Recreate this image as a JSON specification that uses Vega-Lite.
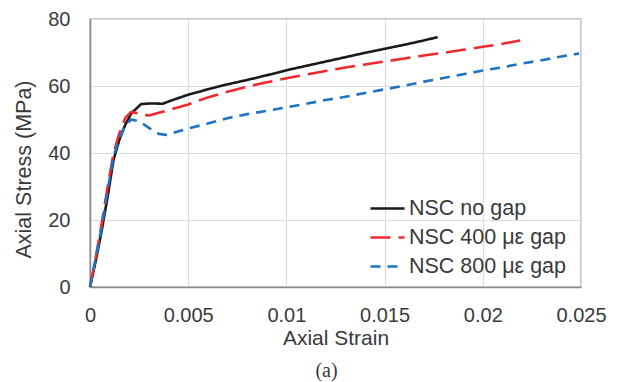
{
  "$schema": "https://vega.github.io/schema/vega-lite/v6.json",
  "autosize": {"type": "none"},
  "padding": {"left": 90, "top": 19, "right": 41, "bottom": 95},
  "width": 491,
  "height": 268,
  "config": {
    "font": "Liberation Sans",
    "view": {"stroke": "#b4b4b4", "strokeWidth": 1.5},
    "axis": {
      "grid": true, "gridColor": "#dcdcdc", "gridWidth": 1.2,
      "ticks": false, "domainColor": "#8a8a8a", "domainWidth": 1.5,
      "labelFont": "Liberation Sans", "labelFontSize": 20, "labelColor": "#3a3a3a",
      "titleFont": "Liberation Sans", "titleFontSize": 21, "titleColor": "#3a3a3a", "titleFontWeight": "normal"
    },
    "legend": {"labelFont": "Liberation Sans", "labelFontSize": 21.5, "labelColor": "#3a3a3a"},
    "title": {"font": "Liberation Serif", "fontSize": 20, "fontWeight": "normal", "color": "#3a3a3a"}
  },
  "title": {"text": "(a)", "orient": "bottom", "anchor": "middle", "offset": 13, "dx": -9},
  "data": {"values": [
    {"s": "NSC no gap", "x": 0, "y": 0},
    {"s": "NSC no gap", "x": 0.0003, "y": 8},
    {"s": "NSC no gap", "x": 0.0006, "y": 17},
    {"s": "NSC no gap", "x": 0.0009, "y": 27},
    {"s": "NSC no gap", "x": 0.0012, "y": 38},
    {"s": "NSC no gap", "x": 0.0015, "y": 44},
    {"s": "NSC no gap", "x": 0.0018, "y": 48.5},
    {"s": "NSC no gap", "x": 0.0021, "y": 51.8},
    {"s": "NSC no gap", "x": 0.0026, "y": 54.6},
    {"s": "NSC no gap", "x": 0.0031, "y": 54.8},
    {"s": "NSC no gap", "x": 0.0037, "y": 54.7},
    {"s": "NSC no gap", "x": 0.0042, "y": 55.8},
    {"s": "NSC no gap", "x": 0.005, "y": 57.4},
    {"s": "NSC no gap", "x": 0.006, "y": 59},
    {"s": "NSC no gap", "x": 0.007, "y": 60.5},
    {"s": "NSC no gap", "x": 0.008, "y": 61.8},
    {"s": "NSC no gap", "x": 0.009, "y": 63.2},
    {"s": "NSC no gap", "x": 0.01, "y": 64.7},
    {"s": "NSC no gap", "x": 0.011, "y": 66},
    {"s": "NSC no gap", "x": 0.012, "y": 67.3},
    {"s": "NSC no gap", "x": 0.013, "y": 68.6},
    {"s": "NSC no gap", "x": 0.014, "y": 69.9},
    {"s": "NSC no gap", "x": 0.015, "y": 71.1},
    {"s": "NSC no gap", "x": 0.016, "y": 72.3},
    {"s": "NSC no gap", "x": 0.017, "y": 73.6},
    {"s": "NSC no gap", "x": 0.0177, "y": 74.6},
    {"s": "NSC 400 με gap", "x": 0, "y": 0},
    {"s": "NSC 400 με gap", "x": 0.0003, "y": 9},
    {"s": "NSC 400 με gap", "x": 0.0006, "y": 19},
    {"s": "NSC 400 με gap", "x": 0.0009, "y": 30},
    {"s": "NSC 400 με gap", "x": 0.0012, "y": 40},
    {"s": "NSC 400 με gap", "x": 0.0015, "y": 46},
    {"s": "NSC 400 με gap", "x": 0.0018, "y": 50.5},
    {"s": "NSC 400 με gap", "x": 0.0021, "y": 52.3},
    {"s": "NSC 400 με gap", "x": 0.0025, "y": 51.7},
    {"s": "NSC 400 με gap", "x": 0.003, "y": 51.2},
    {"s": "NSC 400 με gap", "x": 0.0035, "y": 52},
    {"s": "NSC 400 με gap", "x": 0.004, "y": 52.8},
    {"s": "NSC 400 με gap", "x": 0.005, "y": 54.5},
    {"s": "NSC 400 με gap", "x": 0.006, "y": 56.6},
    {"s": "NSC 400 με gap", "x": 0.007, "y": 58.3},
    {"s": "NSC 400 με gap", "x": 0.008, "y": 59.8},
    {"s": "NSC 400 με gap", "x": 0.009, "y": 61.1},
    {"s": "NSC 400 με gap", "x": 0.01, "y": 62.3},
    {"s": "NSC 400 με gap", "x": 0.011, "y": 63.4},
    {"s": "NSC 400 με gap", "x": 0.012, "y": 64.5},
    {"s": "NSC 400 με gap", "x": 0.013, "y": 65.5},
    {"s": "NSC 400 με gap", "x": 0.014, "y": 66.4},
    {"s": "NSC 400 με gap", "x": 0.015, "y": 67.3},
    {"s": "NSC 400 με gap", "x": 0.016, "y": 68.2},
    {"s": "NSC 400 με gap", "x": 0.017, "y": 69.1},
    {"s": "NSC 400 με gap", "x": 0.018, "y": 69.9},
    {"s": "NSC 400 με gap", "x": 0.019, "y": 70.8},
    {"s": "NSC 400 με gap", "x": 0.02, "y": 71.7},
    {"s": "NSC 400 με gap", "x": 0.021, "y": 72.6},
    {"s": "NSC 400 με gap", "x": 0.0219, "y": 73.6},
    {"s": "NSC 800 με gap", "x": 0, "y": 0},
    {"s": "NSC 800 με gap", "x": 0.0003, "y": 9},
    {"s": "NSC 800 με gap", "x": 0.0006, "y": 18},
    {"s": "NSC 800 με gap", "x": 0.0009, "y": 29},
    {"s": "NSC 800 με gap", "x": 0.0012, "y": 39},
    {"s": "NSC 800 με gap", "x": 0.0015, "y": 44.5},
    {"s": "NSC 800 με gap", "x": 0.0018, "y": 48.3},
    {"s": "NSC 800 με gap", "x": 0.0021, "y": 50},
    {"s": "NSC 800 με gap", "x": 0.0025, "y": 49.5},
    {"s": "NSC 800 με gap", "x": 0.003, "y": 47.5},
    {"s": "NSC 800 με gap", "x": 0.0035, "y": 45.7},
    {"s": "NSC 800 με gap", "x": 0.0039, "y": 45.4},
    {"s": "NSC 800 με gap", "x": 0.005, "y": 47.3},
    {"s": "NSC 800 με gap", "x": 0.006, "y": 48.8},
    {"s": "NSC 800 με gap", "x": 0.007, "y": 50.4},
    {"s": "NSC 800 με gap", "x": 0.008, "y": 51.6},
    {"s": "NSC 800 με gap", "x": 0.009, "y": 52.6},
    {"s": "NSC 800 με gap", "x": 0.01, "y": 53.6},
    {"s": "NSC 800 με gap", "x": 0.011, "y": 54.7},
    {"s": "NSC 800 με gap", "x": 0.012, "y": 55.8},
    {"s": "NSC 800 με gap", "x": 0.013, "y": 56.8},
    {"s": "NSC 800 με gap", "x": 0.014, "y": 57.9},
    {"s": "NSC 800 με gap", "x": 0.015, "y": 59},
    {"s": "NSC 800 με gap", "x": 0.016, "y": 60.1},
    {"s": "NSC 800 με gap", "x": 0.017, "y": 61.3},
    {"s": "NSC 800 με gap", "x": 0.018, "y": 62.4},
    {"s": "NSC 800 με gap", "x": 0.019, "y": 63.5},
    {"s": "NSC 800 με gap", "x": 0.02, "y": 64.6},
    {"s": "NSC 800 με gap", "x": 0.021, "y": 65.6},
    {"s": "NSC 800 με gap", "x": 0.022, "y": 66.7},
    {"s": "NSC 800 με gap", "x": 0.023, "y": 67.7},
    {"s": "NSC 800 με gap", "x": 0.024, "y": 68.8},
    {"s": "NSC 800 με gap", "x": 0.0249, "y": 69.7}
  ]},
  "mark": {"type": "line", "strokeWidth": 2.6, "strokeCap": "butt", "strokeJoin": "round"},
  "encoding": {
    "x": {"field": "x", "type": "quantitative",
      "scale": {"domain": [0, 0.025], "nice": false, "zero": true},
      "axis": {"title": "Axial Strain", "values": [0, 0.005, 0.01, 0.015, 0.02, 0.025], "format": "~g",
        "labelPadding": 18, "titlePadding": 2, "labelFlush": false, "labelOverlap": false, "labelBound": false}},
    "y": {"field": "y", "type": "quantitative",
      "scale": {"domain": [0, 80], "nice": false},
      "axis": {"title": "Axial Stress (MPa)", "values": [0, 20, 40, 60, 80], "titleFontSize": 21.5, "titleY": 150,
        "labelPadding": 20, "titlePadding": 12, "labelFlush": false, "labelOverlap": false, "labelBound": false}},
    "color": {"field": "s", "type": "nominal",
      "scale": {"domain": ["NSC no gap", "NSC 400 με gap", "NSC 800 με gap"], "range": ["#1a1a1a", "#ee2a2e", "#1f74c2"]},
      "legend": {"title": null, "orient": "none", "legendX": 279, "legendY": 171, "padding": 0,
        "symbolType": "stroke", "symbolSize": 1156, "symbolStrokeWidth": 2.6, "labelOffset": 3, "rowPadding": -5}},
    "strokeDash": {"field": "s", "type": "nominal",
      "scale": {"domain": ["NSC no gap", "NSC 400 με gap", "NSC 800 με gap"], "range": [[1, 0], [20, 8], [10, 7]]},
      "legend": {"title": null, "orient": "none", "legendX": 279, "legendY": 171, "padding": 0,
        "symbolType": "stroke", "symbolSize": 1156, "symbolStrokeWidth": 2.6, "labelOffset": 3, "rowPadding": -5}}
  }
}
